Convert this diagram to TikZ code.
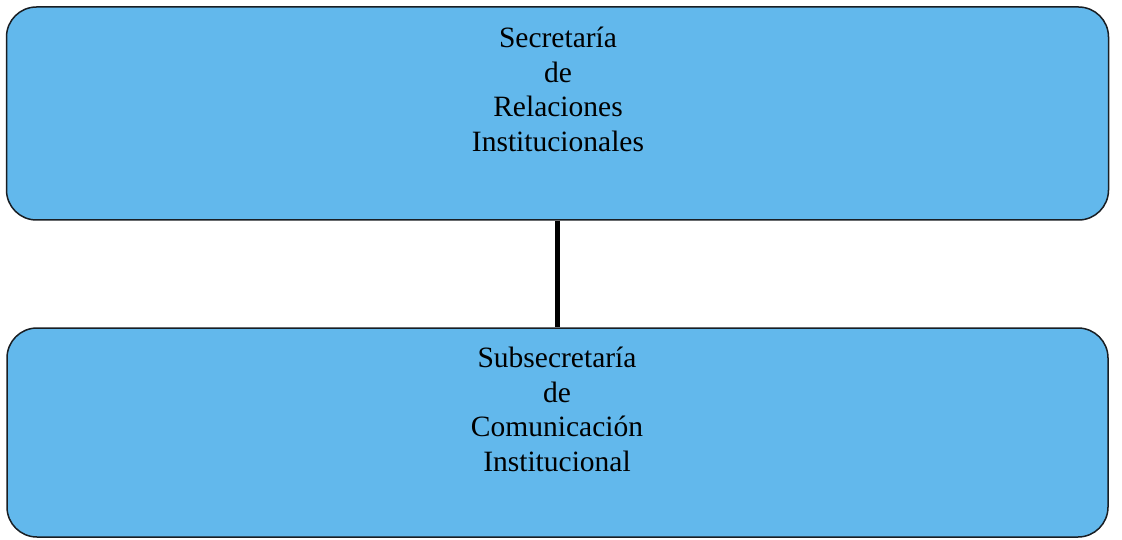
\documentclass[tikz,border=0pt]{standalone}
\usepackage{fontspec}
\setmainfont{Liberation Serif}
\definecolor{boxblue}{RGB}{98,184,236}
\definecolor{edgecol}{RGB}{25,30,35}
\begin{document}
\begin{tikzpicture}[x=1pt,y=-1pt,
  orgbox/.style={draw=edgecol, fill=boxblue, line width=1.5pt, rounded corners=30pt, inner sep=0pt},
  orgtext/.style={align=center, anchor=north, inner sep=0pt, font=\fontsize{29.5pt}{34.5pt}\selectfont},
  link/.style={draw=black, line width=5pt}]
\useasboundingbox (0,0) rectangle (1122,540);
\fill[white] (0,0) rectangle (1122,540);
\node[orgbox, minimum width=1102pt, minimum height=213pt] (b1) at (557.5,113.5) {};
\node[orgbox, minimum width=1101pt, minimum height=209pt] (b2) at (557.5,432.5) {};
\draw[link] (b1.south) -- (b2.north);
\node[orgtext] (t1) at (558,27) {Secretaría\\de\\Relaciones\\Institucionales};
\node[orgtext] (t2) at (557,347) {Subsecretaría\\de\\Comunicación\\Institucional};
\end{tikzpicture}
\end{document}
